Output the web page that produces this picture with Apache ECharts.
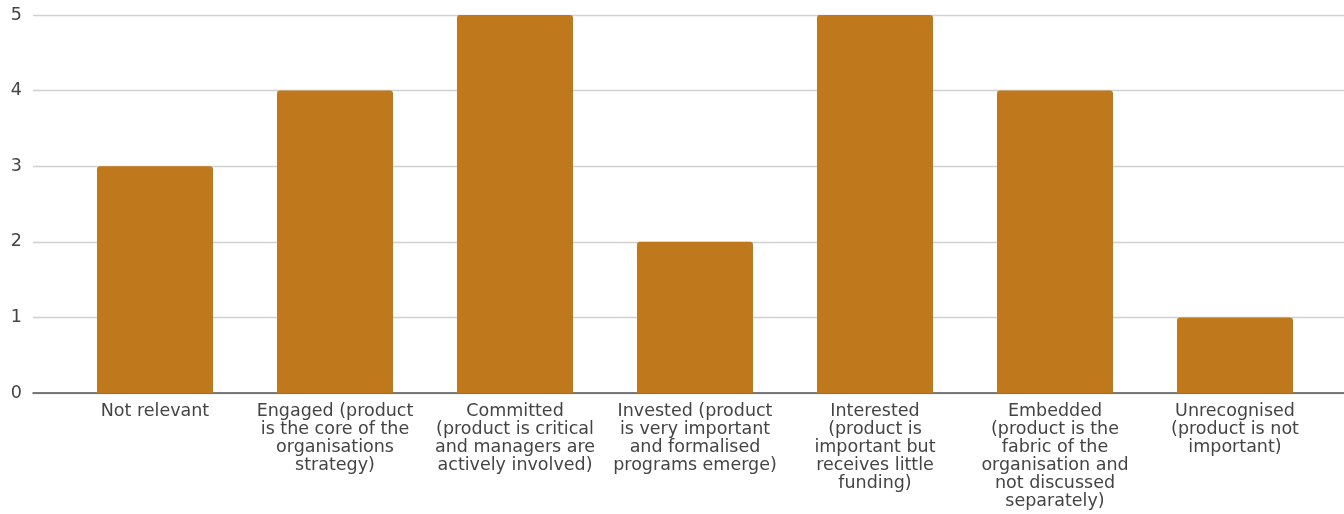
<!DOCTYPE html>
<html>
<head>
<meta charset="utf-8">
<script src="https://cdn.jsdelivr.net/npm/echarts@6/dist/echarts.min.js"></script>
<style>
html,body{margin:0;padding:0;background:#fff;}
#chart{width:1344px;height:514px;}
</style>
</head>
<body>
<div id="chart"></div>
<script>
const categories = [
  "Not relevant",
  "Engaged (product\nis the core of the\norganisations\nstrategy)",
  "Committed\n(product is critical\nand managers are\nactively involved)",
  "Invested (product\nis very important\nand formalised\nprograms emerge)",
  "Interested\n(product is\nimportant but\nreceives little\nfunding)",
  "Embedded\n(product is the\nfabric of the\norganisation and\nnot discussed\nseparately)",
  "Unrecognised\n(product is not\nimportant)"
];
const values = [3, 4, 5, 2, 5, 4, 1];
const yTicks = [0, 1, 2, 3, 4, 5];

const chart = echarts.init(document.getElementById('chart'), null, {renderer: 'canvas'});
const font = 'DejaVu Sans, Verdana, sans-serif';
chart.setOption({
  animation: false,
  grid: [
    {left: 33, right: 0, top: 15, bottom: 121},
    {left: 65, right: 19, top: 15, bottom: 121}
  ],
  xAxis: [
    {gridIndex: 0, type: 'value', min: 0, max: 1, show: true,
     axisLine: {show: true, lineStyle: {color: '#555', width: 1.5}},
     axisTick: {show: false}, axisLabel: {show: false}, splitLine: {show: false}},
    {gridIndex: 1, type: 'category', data: categories,
     axisLine: {show: false}, axisTick: {show: false},
     axisLabel: {interval: 0, color: '#444', fontFamily: font, fontSize: 17.5,
                 lineHeight: 18, margin: 9, align: 'center'}}
  ],
  yAxis: [
    {gridIndex: 0, type: 'value', min: yTicks[0], max: yTicks[yTicks.length-1], interval: 1,
     axisLine: {show: false}, axisTick: {show: false},
     axisLabel: {color: '#444', fontFamily: font, fontSize: 17.5, margin: 11,
                 formatter: v => yTicks.includes(v) ? String(v) : ''},
     splitLine: {lineStyle: {color: '#d0d0d0', width: 1.3}}},
    {gridIndex: 1, type: 'value', min: 0, max: 5, show: false, splitLine: {show: false}}
  ],
  series: [{
    type: 'bar', xAxisIndex: 1, yAxisIndex: 1, data: values,
    barWidth: 116, z: 3,
    itemStyle: {color: '#C0781D', borderRadius: [3, 3, 0, 0]}
  }]
});
</script>
</body>
</html>
